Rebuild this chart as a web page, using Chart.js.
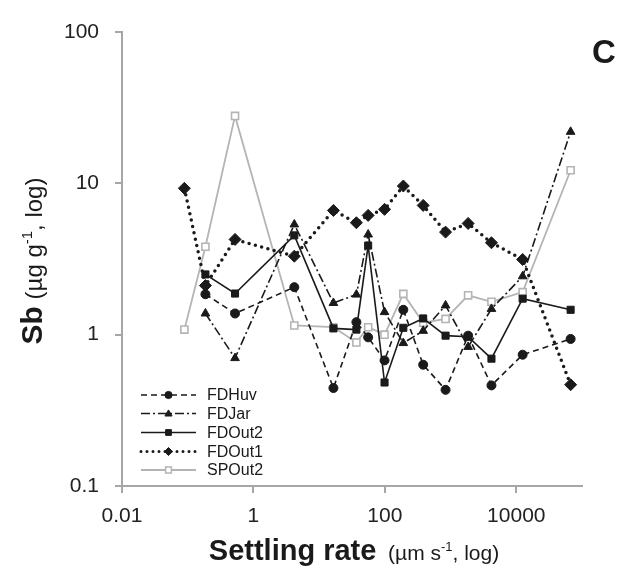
<!DOCTYPE html>
<html>
<head>
<meta charset="utf-8">
<script src="https://cdn.jsdelivr.net/npm/chart.js@4/dist/chart.umd.min.js"></script>
<style>
  body { margin: 0; background: #fff; }
  #wrap { width: 635px; height: 570px; }
</style>
</head>
<body>
<div id="wrap"><canvas id="sbChart" width="635" height="570"></canvas></div>
<script>
// settling rate (µm s-1) for each fraction
const settling = [0.089, 0.186, 0.525, 4.19, 16.5, 36.9, 55.7, 98.9, 191, 383, 839, 1850, 4190, 12500, 67100];

// Sb (µg g-1), null = no sample
const fdHuv  = [null, 1.85, 1.38, 2.06, 0.444, 1.21, 0.96, 0.676, 1.46, 0.633, 0.432, 0.985, 0.462, 0.737, 0.937];
const fdJar  = [null, 1.38, 0.70, 5.35, 1.62, 1.84, 4.59, 1.41, 0.88, 1.06, 1.56, 0.83, 1.48, 2.43, 21.9];
const fdOut2 = [null, 2.50, 1.87, 4.53, 1.10, 1.08, 3.88, 0.483, 1.11, 1.28, 0.985, 0.97, 0.694, 1.73, 1.46];
const fdOut1 = [9.27, 2.11, 4.26, 3.30, 6.62, 5.49, 6.14, 6.73, 9.60, 7.15, 4.76, 5.43, 4.05, 3.14, 0.467];
const spOut2 = [1.08, 3.81, 27.9, 1.15, 1.12, 0.889, 1.12, 1.0, 1.86, 1.20, 1.27, 1.82, 1.65, 1.91, 12.2];

const xTicks = [0.01, 1, 100, 10000];
const yTicks = [0.1, 1, 10, 100];

const axisGray = '#a6a6a6';
const spGray = '#b4b4b4';
const fontFam = '"Liberation Sans", Arial, sans-serif';

function toPoints(vals) {
    return settling.map((x, i) => ({ x: x, y: vals[i] })).filter(p => p.y !== null);
}

const seriesList = [
    { label: 'FDHuv', data: fdHuv, color: '#1a1a1a', fill: '#1a1a1a', dash: [6, 4], width: 1.6, cap: 'butt', style: 'circle', r: 4.5 },
    { label: 'FDJar', data: fdJar, color: '#1a1a1a', fill: '#1a1a1a', dash: [9, 3, 2, 3], width: 1.6, cap: 'butt', style: 'triangle', r: 5 },
    { label: 'FDOut2', data: fdOut2, color: '#1a1a1a', fill: '#1a1a1a', dash: [], width: 1.6, cap: 'butt', style: 'rect', r: 5 },
    { label: 'FDOut1', data: fdOut1, color: '#1a1a1a', fill: '#1a1a1a', dash: [0, 6.5], width: 3.5, cap: 'round', style: 'rectRot', r: 6 },
    { label: 'SPOut2', data: spOut2, color: spGray, fill: '#ffffff', dash: [], width: 1.8, cap: 'butt', style: 'rect', r: 5 }
];

const datasets = seriesList.map(s => ({
    label: s.label,
    data: toPoints(s.data),
    borderColor: s.color,
    borderWidth: s.width,
    borderDash: s.dash,
    borderCapStyle: s.cap,
    pointStyle: s.style,
    pointRadius: s.r,
    pointBackgroundColor: s.fill,
    pointBorderColor: s.color,
    pointBorderWidth: s.label === 'SPOut2' ? 1.6 : 1,
    tension: 0,
    fill: false
}));

// marker for the legend
function drawMarker(ctx, s, x, y, r) {
    ctx.save();
    ctx.setLineDash([]);
    ctx.fillStyle = s.fill;
    ctx.strokeStyle = s.color;
    ctx.lineWidth = s.label === 'SPOut2' ? 1.5 : 1;
    ctx.beginPath();
    if (s.style === 'circle') {
        ctx.arc(x, y, r, 0, Math.PI * 2);
    } else if (s.style === 'triangle') {
        ctx.moveTo(x, y - r);
        ctx.lineTo(x + r, y + r * 0.7);
        ctx.lineTo(x - r, y + r * 0.7);
        ctx.closePath();
    } else if (s.style === 'rect') {
        ctx.rect(x - r * 0.8, y - r * 0.8, r * 1.6, r * 1.6);
    } else if (s.style === 'rectRot') {
        ctx.moveTo(x, y - r);
        ctx.lineTo(x + r, y);
        ctx.lineTo(x, y + r);
        ctx.lineTo(x - r, y);
        ctx.closePath();
    }
    ctx.fill();
    ctx.stroke();
    ctx.restore();
}

function drawParts(ctx, parts, y) {
    let total = 0;
    parts.forEach(p => { ctx.font = p.f; total += ctx.measureText(p.t).width; });
    let x = -total / 2;
    ctx.textAlign = 'left';
    parts.forEach(p => {
        ctx.font = p.f;
        ctx.fillText(p.t, x, y + p.dy);
        x += ctx.measureText(p.t).width;
    });
}

const annotations = {
    id: 'annotations',
    afterDraw(chart) {
        const ctx = chart.ctx;
        ctx.save();
        ctx.fillStyle = '#1a1a1a';
        ctx.textBaseline = 'alphabetic';

        // y axis title
        ctx.save();
        ctx.translate(42, 261);
        ctx.rotate(-Math.PI / 2);
        drawParts(ctx, [
            { t: 'Sb', f: 'bold 30px ' + fontFam, dy: 0 },
            { t: ' (µg g', f: '24px ' + fontFam, dy: 0 },
            { t: '-1', f: '15px ' + fontFam, dy: -10 },
            { t: ', log)', f: '24px ' + fontFam, dy: 0 }
        ], 0);
        ctx.restore();

        // x axis title
        ctx.save();
        ctx.translate(354, 560);
        drawParts(ctx, [
            { t: 'Settling rate', f: 'bold 29px ' + fontFam, dy: 0 },
            { t: '  (µm s', f: '21px ' + fontFam, dy: 0 },
            { t: '-1', f: '13px ' + fontFam, dy: -9 },
            { t: ', log)', f: '21px ' + fontFam, dy: 0 }
        ], 0);
        ctx.restore();

        // panel letter
        ctx.font = 'bold 33px ' + fontFam;
        ctx.textAlign = 'left';
        ctx.fillText('C', 592, 63);

        // legend
        const lx0 = 141, lx1 = 196, tx = 207;
        const rowY = [395, 413.5, 432.5, 451.5, 470];
        ctx.font = '16px ' + fontFam;
        seriesList.forEach((s, i) => {
            const y = rowY[i];
            ctx.save();
            ctx.strokeStyle = s.color;
            ctx.lineWidth = s.label === 'FDOut1' ? 3 : s.width;
            ctx.lineCap = s.cap;
            ctx.setLineDash(s.label === 'FDOut1' ? [0, 6] : s.dash);
            ctx.beginPath();
            ctx.moveTo(lx0, y);
            ctx.lineTo(lx1, y);
            ctx.stroke();
            ctx.restore();
            drawMarker(ctx, s, (lx0 + lx1) / 2, y, s.style === 'rectRot' ? 4 : 3.6);
            ctx.fillStyle = '#1a1a1a';
            ctx.textBaseline = 'middle';
            ctx.fillText(s.label, tx, y + 1);
        });
        ctx.restore();
    }
};

const tickFont = { family: fontFam, size: 21 };

new Chart(document.getElementById('sbChart').getContext('2d'), {
    type: 'line',
    data: { datasets: datasets },
    options: {
        responsive: false,
        animation: false,
        layout: { padding: { top: 32, right: 53, left: 0, bottom: 0 } },
        plugins: {
            legend: { display: false },
            tooltip: { enabled: false }
        },
        scales: {
            x: {
                type: 'logarithmic',
                min: 0.01,
                max: 100000,
                afterBuildTicks: scale => { scale.ticks = xTicks.map(v => ({ value: v })); },
                afterFit: scale => { scale.height = 84; },
                ticks: {
                    color: '#222',
                    font: tickFont,
                    padding: 11,
                    maxRotation: 0,
                    autoSkip: false,
                    callback: v => String(v)
                },
                grid: { drawOnChartArea: false, drawTicks: true, tickLength: 7, color: axisGray, lineWidth: 2 },
                border: { display: true, color: axisGray, width: 2 }
            },
            y: {
                type: 'logarithmic',
                min: 0.1,
                max: 100,
                afterBuildTicks: scale => { scale.ticks = yTicks.map(v => ({ value: v })); },
                afterFit: scale => { scale.width = 122; },
                ticks: {
                    color: '#222',
                    font: tickFont,
                    padding: 16,
                    autoSkip: false,
                    callback: v => String(v)
                },
                grid: { drawOnChartArea: false, drawTicks: true, tickLength: 7, color: axisGray, lineWidth: 2 },
                border: { display: true, color: axisGray, width: 2 }
            }
        }
    },
    plugins: [annotations]
});
</script>
</body>
</html>
